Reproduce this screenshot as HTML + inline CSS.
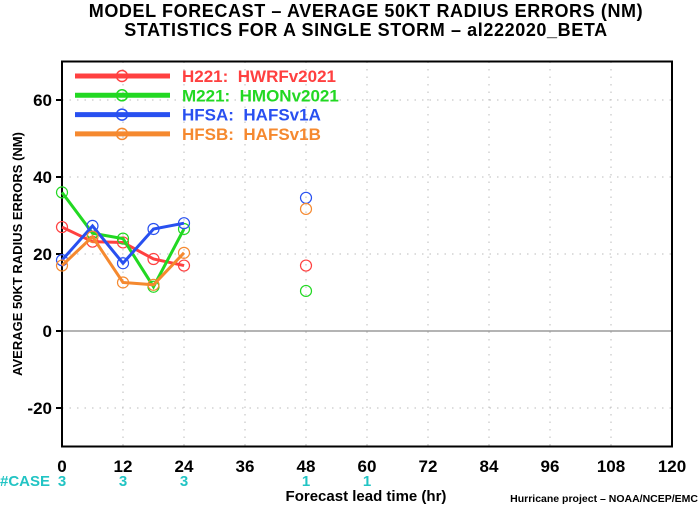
<!DOCTYPE html>
<html><head><meta charset="utf-8"><style>
body{margin:0;background:#fff;}
svg text{font-family:"Liberation Sans",sans-serif;font-weight:bold;}
</style></head><body>
<svg id="chart" width="700" height="506" viewBox="0 0 700 506" xmlns="http://www.w3.org/2000/svg">
<text x="366" y="17" font-size="18" letter-spacing="0.6" text-anchor="middle">MODEL FORECAST – AVERAGE 50KT RADIUS ERRORS (NM)</text>
<text x="366" y="36" font-size="18" letter-spacing="0.6" text-anchor="middle">STATISTICS FOR A SINGLE STORM – al222020_BETA</text>
<g id="grid"></g>
<rect x="62" y="61.5" width="610" height="385" fill="none" stroke="#000" stroke-width="2"/>
<g id="axes"></g>
<g id="series"></g>
<g id="legend"></g>
<text transform="translate(22,254) rotate(-90)" font-size="13" text-anchor="middle">AVERAGE 50KT RADIUS ERRORS (NM)</text>
<text x="366" y="501" font-size="15" text-anchor="middle">Forecast lead time (hr)</text>
<text x="0" y="486" font-size="15" fill="#22c4c4">#CASE</text>
<text x="698" y="502" font-size="10.5" text-anchor="end" font-weight="normal">Hurricane project – NOAA/NCEP/EMC</text>
</svg>
<script>
const xTicks=[0,12,24,36,48,60,72,84,96,108,120];
const yTicks=[-20,0,20,40,60];
const hours=[0,6,12,18,24,48];
const h221=[27,23.2,23,18.7,17,17];
const m221=[36,25.4,24,11.5,26.5,10.4];
const hfsa=[18.4,27.3,17.6,26.5,28,34.6];
const hfsb=[17,24.5,12.6,12,20.3,31.7];
const caseHours=[0,12,24,48,60];
const caseCounts=[3,3,3,1,1];
const seriesNames=["H221:  HWRFv2021","M221:  HMONv2021","HFSA:  HAFSv1A","HFSB:  HAFSv1B"];
const seriesData=[h221,m221,hfsa,hfsb];
const colors=["#ff4040","#22d822","#2850f0","#f5892f"];
const NS="http://www.w3.org/2000/svg";
const X=h=>62+h*610/120;
const Y=v=>331-v*3.85;
function mk(tag,attrs,parent){const e=document.createElementNS(NS,tag);for(const k in attrs)e.setAttribute(k,attrs[k]);document.getElementById(parent).appendChild(e);return e;}
xTicks.forEach(t=>{
  if(t>0&&t<120){const g=mk('line',{x1:X(t),x2:X(t),y1:61.5,y2:446.5,stroke:'#bbb','stroke-dasharray':'1.5,6'},'grid');
  
  }
  const l=mk('text',{x:X(t),y:472,'font-size':17,'text-anchor':'middle'},'axes');l.textContent=t;
  
  
});
yTicks.forEach(t=>{
  const g=mk('line',{x1:62,x2:672,y1:Y(t),y2:Y(t),stroke:t===0?'#888':'#bbb','stroke-dasharray':t===0?'none':'1.5,6','stroke-width':t===0?1.2:1},'grid');
  
  
  const tk=mk('line',{x1:56,x2:62,y1:Y(t),y2:Y(t),stroke:'#000','stroke-width':2},'axes');
  
  
  const l=mk('text',{x:52,y:Y(t)+6,'font-size':17,'text-anchor':'end'},'axes');l.textContent=t;
  
  
});
caseHours.forEach((h,i)=>{
  const l=mk('text',{x:X(h),y:486,'font-size':15,'text-anchor':'middle',fill:'#22c4c4'},'axes');l.textContent=caseCounts[i];
  
  
});
seriesData.forEach((d,si)=>{
  const pts=[];for(let i=0;i<d.length;i++){if(hours[i]<=24)pts.push(X(hours[i])+','+Y(d[i]));}
  const pl=mk('polyline',{points:pts.join(' '),fill:'none',stroke:colors[si],'stroke-width':3},'series');
  
  
  d.forEach((v,i)=>{
    const c=mk('circle',{cx:X(hours[i]),cy:Y(v),r:5.5,fill:'none',stroke:colors[si],'stroke-width':1.2},'series');
    
    
  });
  const ly=76+si*19.3;
  const ll=mk('line',{x1:75,x2:170,y1:ly,y2:ly,stroke:colors[si],'stroke-width':5},'legend');
  
  
  const lc=mk('circle',{cx:122,cy:ly,r:5.5,fill:'none',stroke:colors[si],'stroke-width':1.5},'legend');
  
  
  const lt=mk('text',{x:182,y:ly+6,'font-size':17,fill:colors[si],style:'white-space:pre'},'legend');lt.textContent=seriesNames[si];
  
  
});
</script>
</body></html>
